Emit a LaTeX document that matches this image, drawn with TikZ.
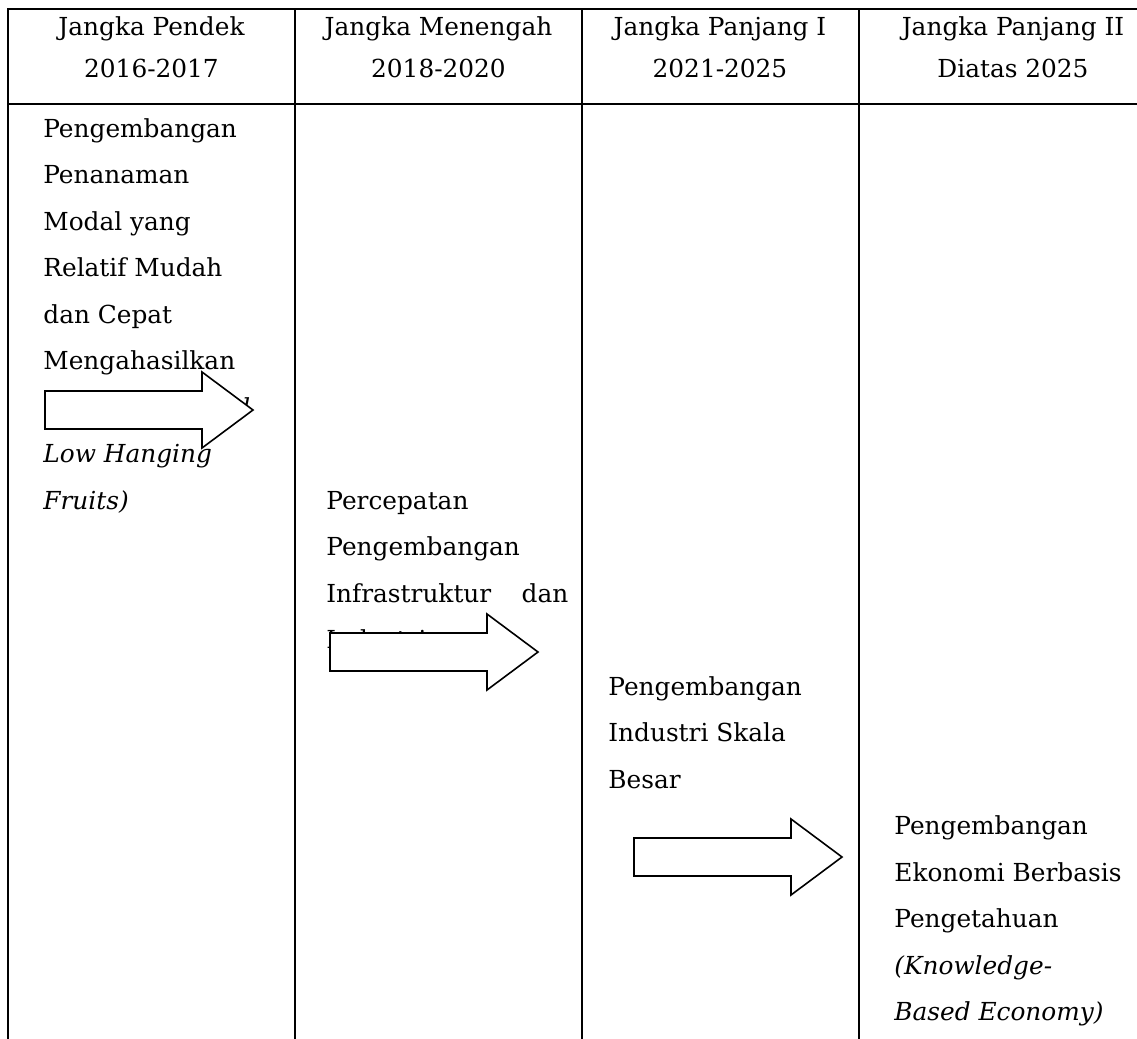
\documentclass[tikz,border=0pt]{standalone}
\usepackage{fontspec}
\setmainfont{DejaVu Serif}

\begin{document}
\begin{tikzpicture}[x=0.5pt, y=-0.5pt,
		isi/.style={anchor=base west, inner sep=0pt, font=\fontsize{12.4}{14}\selectfont},
		judul/.style={anchor=base, inner sep=0pt, font=\fontsize{12.4}{14}\selectfont},
		garis/.style={line width=1.1pt, line cap=rect},
		panah/.style={draw=black, fill=white, line width=0.8pt, line join=miter}]
		\useasboundingbox (0,0) rectangle (1137,1039);

		% --- garis tabel: kolom dan header ---
		\foreach \x in {8,295,582,859} {
			\draw[garis] (\x,9) -- (\x,1039);
		}
		\foreach \y in {9,104} {
			\draw[garis] (8,\y) -- (1137,\y);
		}

		% --- header ---
		\foreach \cx/\ja/\jb [count=\k] in {151.5/Jangka Pendek/2016-2017, 438.5/Jangka Menengah/2018-2020,
			720/Jangka Panjang I/2021-2025, 1013/Jangka Panjang II/Diatas 2025} {
			\node[judul] (ja\k) at (\cx,35) {\ja};
			\node[judul] (jb\k) at (\cx,77) {\jb};
		}

		% --- isi kolom ---
		\foreach \t [count=\i from 0] in {Pengembangan, Penanaman, Modal yang, Relatif Mudah, dan Cepat,
			Mengahasilkan, \textit{(Quick Wins and}, \textit{Low Hanging}, \textit{Fruits)}} {
			\node[isi] (a\i) at (43,{137+46.5*\i}) {\t};
		}
		\foreach \t [count=\i from 0] in {Percepatan, Pengembangan, \makebox[121pt][s]{Infrastruktur dan}, Industri} {
			\node[isi] (b\i) at (326,{509+46.5*\i}) {\t};
		}
		\foreach \t [count=\i from 0] in {Pengembangan, Industri Skala, Besar} {
			\node[isi] (c\i) at (608,{695+46.5*\i}) {\t};
		}
		\foreach \t [count=\i from 0] in {Pengembangan, Ekonomi Berbasis, Pengetahuan,
			\textit{(Knowledge-}, \textit{Based Economy)}} {
			\node[isi] (d\i) at (894,{834.5+46.5*\i}) {\t};
		}

		% --- panah blok (putih, menutupi teks) ---
		\foreach \ax/\ay in {45/410, 330/652, 634/857} {
			\draw[panah] (\ax,{\ay-19}) -- ({\ax+157},{\ay-19}) -- ({\ax+157},{\ay-38})
				-- ({\ax+208},\ay) -- ({\ax+157},{\ay+38}) -- ({\ax+157},{\ay+19})
				-- (\ax,{\ay+19}) -- cycle;
		}
	\end{tikzpicture}
\end{document}
